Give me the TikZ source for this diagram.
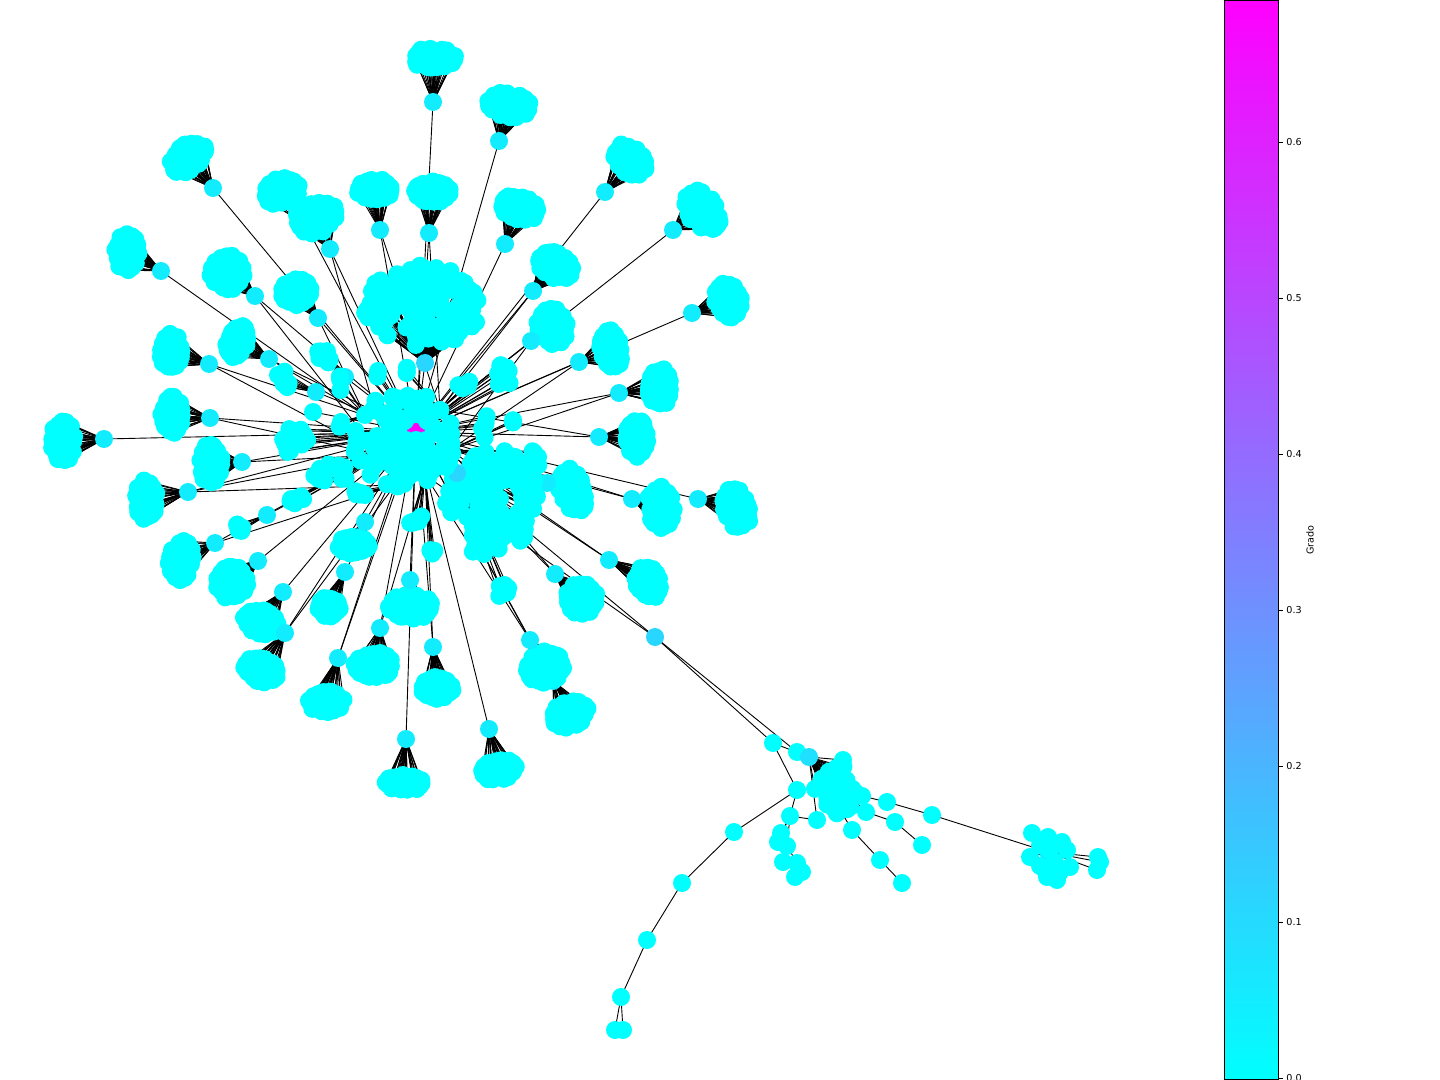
\documentclass[tikz,border=0pt]{standalone}
\usepackage{fontspec}
\setmainfont{DejaVu Sans}
\definecolor{lfc}{RGB}{0,255,255}
\definecolor{hubc}{RGB}{18,236,255}
\definecolor{bigc}{RGB}{40,214,255}
\definecolor{midc}{RGB}{32,224,255}
\definecolor{mgt}{RGB}{255,0,255}
\pgfdeclarelayer{edges}
\pgfdeclarelayer{front}
\pgfsetlayers{edges,main,front}
\tikzset{
  lf/.style={circle, fill=lfc, inner sep=0pt, minimum size=9pt},
  hubn/.style={circle, fill=hubc, inner sep=0pt, minimum size=9pt},
  lnk/.style={line width=0.45pt, black},
  tick/.style={line width=0.4pt, black},
  ticklab/.style={anchor=west, inner sep=0pt, font=\fontsize{4.8}{5}\selectfont},
}
% random leaves of a blob: name, x, y, rx, ry, rotation, first index, last index
\newcommand\leaves[8]{%
  \foreach \k in {#7,...,#8}{%
    \pgfmathsetmacro\rr{sqrt(rnd)}%
    \pgfmathsetmacro\aa{360*rnd}%
    \pgfmathsetmacro\px{#2+\rr*((#4)-8)*cos(\aa)*cos(#6)-\rr*((#5)-8)*sin(\aa)*sin(#6)}%
    \pgfmathsetmacro\py{#3+\rr*((#4)-8)*cos(\aa)*sin(#6)+\rr*((#5)-8)*sin(\aa)*cos(#6)}%
    \node[lf] (#1-\k) at (\px,\py) {};%
  }%
}
% ring leaves 1..22 (14 outer, 7 middle, 1 centre): name, x, y, rx, ry, rotation
\newcommand\rings[6]{%
  \foreach \k in {1,...,22}{%
    \pgfmathsetmacro\rr{(\k<15) ? (1-0.18*rnd) : ((\k<22) ? 0.5 : 0)}%
    \pgfmathsetmacro\aa{(\k<15) ? (\k*360/14+14*rnd) : ((\k-15)*360/7+25)}%
    \pgfmathsetmacro\px{#2+\rr*((#4)-8)*cos(\aa)*cos(#6)-\rr*((#5)-8)*sin(\aa)*sin(#6)}%
    \pgfmathsetmacro\py{#3+\rr*((#4)-8)*cos(\aa)*sin(#6)+\rr*((#5)-8)*sin(\aa)*cos(#6)}%
    \node[lf] (#1-\k) at (\px,\py) {};%
  }%
}
% cluster: name, hub x, hub y, blob x, blob y, rx, ry, rotation, total leaves (>22)
\newcommand\clus[9]{%
  \rings{#1}{#4}{#5}{#6}{#7}{#8}%
  \leaves{#1}{#4}{#5}{#6}{#7}{#8}{23}{#9}%
  \node[hubn] (#1) at (#2,#3) {};%
}
% small cluster, random leaves only
\newcommand\sclus[9]{%
  \leaves{#1}{#4}{#5}{#6}{#7}{#8}{1}{#9}%
  \node[hubn] (#1) at (#2,#3) {};%
}

\begin{document}
\begin{tikzpicture}[x=0.5pt,y=-0.5pt]
\pgfmathsetseed{2718}
\useasboundingbox (0,0) rectangle (1440,1080);

% ---------- centre anchors ----------
\node[lf] (ca) at (380,455) {};
\node[lf] (cb) at (440,410) {};
\node[lf] (cc) at (395,485) {};
\node[lf] (cd) at (365,415) {};
\node[lf] (ce) at (450,450) {};
\node[lf] (cf) at (425,475) {};

% ---------- outer clusters ----------
\clus{A1}{433}{102}{434}{58}{30}{19}{0}{30}
\clus{A2}{499}{141}{509}{105}{30}{21}{10}{30}
\clus{A3}{213}{188}{188}{157}{28}{21}{-40}{30}
\clus{A4}{605}{192}{630}{160}{27}{21}{40}{30}
\clus{A5}{673}{230}{702}{210}{32}{23}{50}{30}
\clus{A6}{161}{271}{127}{252}{20}{27}{0}{30}
\clus{A7}{255}{296}{227}{272}{25}{26}{-20}{30}
\clus{A8}{318}{318}{296}{292}{23}{21}{-20}{28}
\clus{A10}{305}{224}{282}{191}{26}{21}{-20}{30}
\clus{A9}{330}{249}{316}{217}{30}{24}{-20}{30}
\clus{A11}{380}{230}{375}{190}{26}{19}{0}{30}
\clus{A12}{429}{233}{433}{192}{26}{19}{0}{30}
\clus{A13}{505}{244}{520}{208}{28}{20}{15}{30}
\clus{A14}{533}{291}{555}{265}{28}{21}{25}{30}
\clus{A15}{692}{313}{728}{300}{21}{27}{-12}{30}
\clus{A16}{531}{341}{552}{326}{23}{27}{-20}{30}
\clus{A17}{209}{364}{171}{351}{19}{26}{0}{28}
\clus{A18}{269}{359}{237}{342}{18}{25}{20}{28}
\clus{A19}{579}{362}{611}{349}{19}{28}{-10}{28}
\clus{A20}{619}{393}{660}{387}{20}{27}{0}{28}
\clus{A21}{210}{418}{172}{415}{19}{27}{0}{28}
\clus{A22}{104}{439}{63}{441}{20}{29}{0}{30}
\clus{A23}{599}{437}{637}{438}{20}{27}{0}{28}
\clus{A24}{242}{462}{211}{464}{19}{29}{0}{28}
\clus{A25}{188}{492}{146}{500}{19}{28}{0}{28}
\clus{A26}{547}{483}{572}{490}{21}{31}{-20}{28}
\clus{A27}{632}{499}{661}{508}{21}{30}{-10}{28}
\clus{A28}{698}{499}{736}{508}{21}{30}{-20}{28}
\sclus{A29}{267}{515}{239}{528}{14}{15}{0}{7}
\clus{A30}{215}{543}{181}{561}{20}{29}{10}{28}
\clus{A31}{258}{561}{232}{582}{24}{25}{0}{28}
\clus{A32}{283}{592}{261}{622}{26}{20}{20}{28}
\clus{A33}{285}{633}{261}{670}{26}{20}{20}{28}
\clus{A34}{345}{572}{329}{607}{19}{18}{0}{24}
\clus{A35}{338}{658}{326}{702}{26}{19}{0}{28}
\clus{A36}{380}{628}{374}{665}{28}{21}{0}{28}
\clus{A37}{410}{580}{410}{607}{32}{20}{0}{30}
\clus{A38}{433}{647}{437}{688}{25}{19}{0}{28}
\clus{A39}{406}{739}{405}{783}{28}{16}{0}{28}
\clus{A40}{489}{729}{498}{770}{27}{18}{-10}{28}
\clus{A42}{553}{681}{570}{714}{27}{21}{-20}{28}
\clus{A41}{530}{640}{545}{667}{27}{24}{-20}{28}
\clus{A43}{555}{574}{581}{599}{24}{24}{0}{28}
\clus{A44}{609}{560}{648}{582}{20}{25}{-20}{28}
\clus{A45}{365}{522}{354}{545}{24}{17}{0}{26}
\sclus{A46}{345}{377}{322}{355}{16}{18}{-30}{9}
\sclus{A47}{316}{392}{284}{380}{14}{18}{-20}{9}

% ---------- big central masses ----------
\begin{scope}[hubn/.style={circle, fill=bigc, inner sep=0pt, minimum size=9pt}]
\sclus{hb1}{425}{363}{423}{305}{68}{49}{0}{140}
\sclus{hb2}{457}{473}{493}{503}{55}{62}{0}{120}
\end{scope}
\leaves{M}{403}{440}{60}{57}{0}{1}{110}
\leaves{L1}{292}{440}{26}{22}{0}{1}{12}
\leaves{L2}{330}{475}{30}{20}{0}{1}{12}
\leaves{L3}{300}{500}{20}{12}{0}{1}{6}
\leaves{L4}{355}{495}{20}{12}{0}{1}{7}
\leaves{L5}{340}{425}{10}{15}{0}{1}{4}
\leaves{R1}{502}{376}{17}{21}{0}{1}{10}
\leaves{R2}{466}{385}{16}{13}{0}{1}{6}
\leaves{R3}{485}{427}{12}{20}{0}{1}{6}
\leaves{R4}{513}{420}{9}{13}{0}{1}{3}
\leaves{R5}{535}{460}{12}{20}{0}{1}{6}
\leaves{S1}{379}{374}{11}{12}{0}{1}{3}
\leaves{S2}{405}{370}{12}{12}{0}{1}{3}
\leaves{S3}{340}{385}{9}{18}{0}{1}{3}
\leaves{S4}{416}{520}{16}{13}{0}{1}{6}
\leaves{S5}{430}{551}{16}{11}{0}{1}{5}
\leaves{S6}{500}{590}{18}{14}{0}{1}{5}
\node[lf] (s7) at (313,412) {};

% ---------- lower right part ----------
\node[circle, fill=bigc, inner sep=0pt, minimum size=9pt] (b0) at (655,637) {};
\node[lf] (b1) at (773,743) {};
\node[lf] (b2) at (797,752) {};
\node[circle, fill=midc, inner sep=0pt, minimum size=9pt] (b3) at (809,757) {};
\leaves{K}{836}{790}{30}{33}{0}{1}{40}
\node[lf] (k1) at (797,790) {};
\node[lf] (k3) at (852,830) {};
\node[lf] (k4) at (866,812) {};
\node[lf] (k5) at (843,760) {};
\node[lf] (k6) at (862,796) {};
\node[lf] (k7) at (817,820) {};
\node[lf] (b18) at (887,802) {};
\node[lf] (b19) at (895,822) {};
\node[lf] (b20) at (932,815) {};
\node[lf] (b21) at (922,845) {};
\node[lf] (b22) at (880,860) {};
\node[lf] (b23) at (902,883) {};
\node[lf] (c1) at (734,832) {};
\node[lf] (c2) at (682,883) {};
\node[lf] (c3) at (647,940) {};
\node[lf] (c4) at (621,997) {};
\node[lf] (c5) at (615,1030) {};
\node[lf] (c6) at (623,1030) {};
\node[lf] (d1) at (790,816) {};
\node[lf] (d2) at (781,833) {};
\node[lf] (d3) at (778,842) {};
\node[lf] (d4) at (787,846) {};
\node[lf] (e1) at (783,862) {};
\node[lf] (e2) at (797,863) {};
\node[lf] (e3) at (802,872) {};
\node[lf] (e4) at (795,877) {};
\node[hubn] (rc) at (1048,852) {};
\foreach \i/\x/\y in {1/1032/833, 2/1048/837, 3/1030/857, 4/1047/877, 5/1067/850,
  6/1070/867, 7/1057/880, 8/1040/845, 9/1055/862, 10/1060/872, 11/1040/866, 12/1062/842,
  13/1050/850, 14/1045/870}{
  \node[lf] (r\i) at (\x,\y) {};
}
\node[lf] (f1) at (1098,857) {};
\node[lf] (f2) at (1097,870) {};
\node[lf] (f3) at (1100,862) {};

% ---------- magenta centre, on top ----------
\begin{pgfonlayer}{front}
  \node[circle, fill=mgt, inner sep=0pt, minimum size=9pt] (ctr) at (416,432) {};
  \node[lf] (cv1) at (405,421) {};
  \node[lf] (cv2) at (427,421) {};
  \node[lf] (cv3) at (406,440) {};
  \node[lf] (cv4) at (416,440) {};
  \node[lf] (cv5) at (426,440) {};
\end{pgfonlayer}

% ---------- all connectors, below the nodes ----------
\begin{pgfonlayer}{edges}
\foreach \c/\n in {A1/30, A2/30, A3/30, A4/30, A5/30, A6/30, A7/30, A8/28, A9/30, A10/30,
  A11/30, A12/30, A13/30, A14/30, A15/30, A16/30, A17/28, A18/28, A19/28, A20/28,
  A21/28, A22/30, A23/28, A24/28, A25/28, A26/28, A27/28, A28/28, A29/7, A30/28,
  A31/28, A32/28, A33/28, A34/24, A35/28, A36/28, A37/30, A38/28, A39/28, A40/28,
  A41/28, A42/28, A43/28, A44/28, A45/26, A46/9, A47/9, hb1/140, hb2/120}{
  \foreach \k in {1,...,\n}{\draw[lnk] (\c.center) -- (\c-\k.center);}
}
\foreach \c/\n/\t in {M/110/ctr, L1/12/ctr, L2/12/ctr, L3/6/ca, L4/7/cc, L5/4/cd,
  R1/10/ctr, R2/6/cb, R3/6/ctr, R4/3/ce, R5/6/ce, S1/3/ctr, S2/3/cb, S3/3/cd,
  S4/6/cf, S5/5/cf, S6/5/hb2, K/40/b3}{
  \foreach \k in {1,...,\n}{\draw[lnk] (\t.center) -- (\c-\k.center);}
}
\foreach \i in {1,...,14}{\draw[lnk] (rc.center) -- (r\i.center);}
\foreach \a/\b in {A1/ctr, A2/ctr, A3/ctr, A4/ctr, A5/ctr, A6/cd, A7/ctr, A7/ca,
  A8/ctr, A8/cd, A9/ctr, A9/cc, A10/ctr, A11/ctr, A11/cb, A12/ctr, A12/cb, A13/ctr,
  A14/ctr, A14/cb, A15/ctr, A16/ctr, A16/ce, A17/ctr, A17/ca, A18/ctr, A18/cd,
  A19/ctr, A19/ce, A20/ctr, A20/ce, A21/ctr, A21/ca, A22/ctr, A23/ctr, A23/cb,
  A24/ctr, A24/ca, A25/ctr, A25/ca, A25/cc, A26/ctr, A27/ctr, A27/ce, A28/ctr,
  A29/ca, A30/ctr, A30/cc, A31/ctr, A32/ctr, A33/ctr, A33/cc, A34/ctr, A35/ctr,
  A35/cc, A36/ctr, A36/cf, A37/ctr, A38/ctr, A38/cf, A39/ctr, A40/ctr, A41/ctr,
  A41/cf, A42/ctr, A43/ctr, A43/ce, A44/ctr, A44/ce, A45/ctr, A46/ctr, A47/ctr,
  hb1/ctr, hb2/ctr, s7/ctr,
  b0/hb2, b0/cf, b0/b1, b0/b2, b1/k1, b1/b3, b2/b3, b3/k5, b3/k7,
  b3/k4, b3/k3, b3/k6, k1/c1, c1/c2, c2/c3, c3/c4, c4/c5, c4/c6,
  k6/b18, b18/b20, b20/rc, k4/b19, b19/b21, k3/b22, b22/b23,
  d1/k1, d1/k7, d1/d2, d1/d3, d1/d4, d4/e1, d4/e2, e2/e3, e2/e4,
  rc/f1, rc/f2, rc/f3}{\draw[lnk] (\a.center) -- (\b.center);}
\end{pgfonlayer}

% ---------- colour bar ----------
\shade[bottom color=lfc, top color=mgt] (1224,0) rectangle (1278,1079);
\draw[line width=0.45pt] (1224,0) rectangle (1278,1079);
\foreach \i/\y in {0/1078, 1/922, 2/766, 3/610, 4/454, 5/298, 6/142}{
  \draw[tick] (1278,\y) -- (1283,\y);
  \node[ticklab] (tk\i) at (1286,\y) {0.\i};
}
\node[rotate=90, inner sep=0pt, font=\fontsize{4.8}{5}\selectfont] (lbl) at (1310,540) {Grado};
\end{tikzpicture}
\end{document}
